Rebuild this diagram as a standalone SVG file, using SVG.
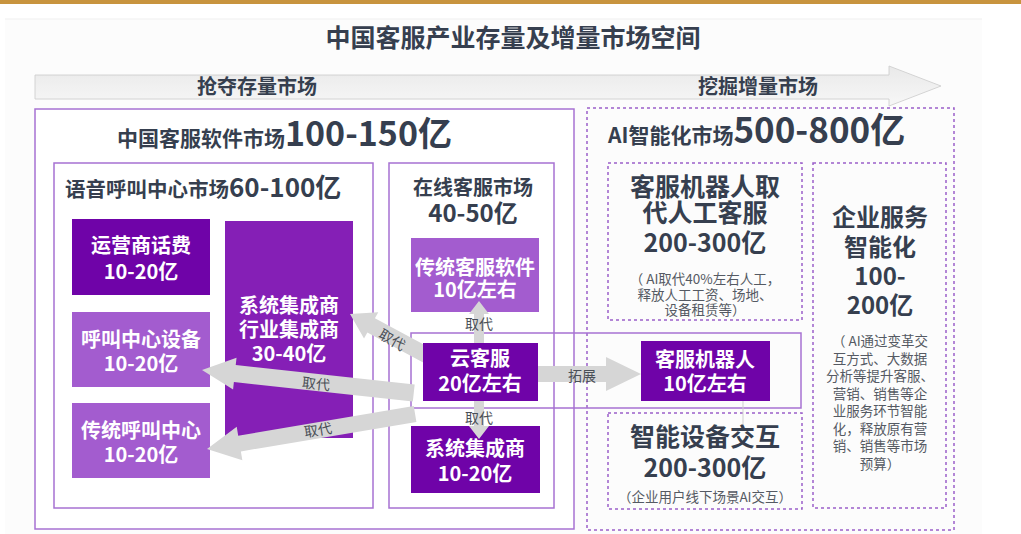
<svg xmlns="http://www.w3.org/2000/svg" width="1021" height="534" viewBox="0 0 1021 534">
<defs>
<linearGradient id="bigArrow" x1="0" y1="0" x2="0" y2="1">
<stop offset="0" stop-color="#e9e9e9"/>
<stop offset="1" stop-color="#f7f7f7"/>
</linearGradient>
<style>
text{font-family:"Noto Sans CJK SC","Noto Sans",sans-serif;}
.h{fill:#363f4f;font-weight:700;}
.w{fill:#ffffff;font-weight:700;font-size:20px;text-anchor:middle;}
.s{fill:#555a63;font-size:13.5px;text-anchor:middle;}
.lbl{fill:#4a4f57;font-size:14px;text-anchor:middle;}
.dk{fill:#6f03a8;}
.md{fill:#851fb6;}
.lt{fill:#a35ccf;}
.solid{fill:#ffffff;stroke:#a772d2;stroke-width:1.5;}
.dash{fill:none;stroke:#9b5fc9;stroke-width:1.5;stroke-dasharray:3 3;}
.ga{fill:#d6d6d6;}
</style>
</defs>
<rect x="0" y="0" width="1021" height="534" fill="#ffffff"/>
<rect x="5" y="19" width="977" height="515" fill="#fcfcfc"/>
<line x1="5" y1="19" x2="982" y2="19" stroke="#efefef" stroke-width="1"/>
<rect x="0" y="0" width="1021" height="4" fill="#c8943e"/>

<g id="title">
<text x="513" y="47" class="h" font-size="25" text-anchor="middle">中国客服产业存量及增量市场空间</text>
</g>

<g id="timeline">
<polygon points="35,75 889,75 889,66 941,86 889,106 889,99 35,99" fill="url(#bigArrow)" stroke="#cfcfcf" stroke-width="0.9"/>
<text x="257" y="94" class="h" font-size="20" text-anchor="middle">抢夺存量市场</text>
<text x="758" y="94" class="h" font-size="20" text-anchor="middle">挖掘增量市场</text>
</g>

<g id="software-market">
<rect x="35" y="109" width="539" height="420" class="solid"/>
<text x="117" y="146" class="h"><tspan font-size="21">中国客服软件市场</tspan><tspan font-size="34">100-150亿</tspan></text>
</g>

<g id="voice-market">
<rect x="54" y="163" width="319" height="345" class="solid"/>
<text x="65" y="197" class="h"><tspan font-size="20.5">语音呼叫中心市场</tspan><tspan font-size="26">60-100亿</tspan></text>
</g>

<g id="online-market">
<rect x="389" y="163" width="165" height="345" class="solid"/>
<text x="473" y="195" class="h" font-size="20" text-anchor="middle">在线客服市场</text>
<text x="473" y="222" class="h" font-size="24" text-anchor="middle">40-50亿</text>
</g>

<g id="ai-market">
<rect x="587" y="108" width="367" height="422" class="dash" fill="#ffffff"/>
<text x="608" y="143" class="h"><tspan font-size="21">AI智能化市场</tspan><tspan font-size="35">500-800亿</tspan></text>
</g>

<g id="cloud-frame">
<rect x="411" y="333" width="390" height="75" fill="none" stroke="#a772d2" stroke-width="1.5"/>
</g>

<g id="node-carrier">
<rect x="72" y="219" width="138" height="76" class="dk"/>
<text x="141" y="253" class="w">运营商话费</text>
<text x="141" y="279" class="w">10-20亿</text>
</g>

<g id="node-integrator">
<rect x="225" y="221" width="128" height="217" class="md"/>
<text x="289" y="313" class="w">系统集成商</text>
<text x="289" y="337" class="w">行业集成商</text>
<text x="289" y="361" class="w">30-40亿</text>
</g>

<g id="node-callcenter-device">
<rect x="72" y="312" width="138" height="75" class="lt"/>
<text x="141" y="347" class="w">呼叫中心设备</text>
<text x="141" y="371" class="w">10-20亿</text>
</g>

<g id="node-traditional-callcenter">
<rect x="72" y="403" width="138" height="75" class="lt"/>
<text x="141" y="438" class="w">传统呼叫中心</text>
<text x="141" y="462" class="w">10-20亿</text>
</g>

<g id="node-traditional-software">
<rect x="411" y="238" width="128" height="74" class="lt"/>
<text x="475" y="275" class="w">传统客服软件</text>
<text x="475" y="297" class="w">10亿左右</text>
</g>

<g id="node-online-integrator">
<rect x="411" y="426" width="129" height="67" class="dk"/>
<text x="475" y="456" class="w">系统集成商</text>
<text x="475" y="481" class="w">10-20亿</text>
</g>

<g id="node-robot-replace">
<rect x="608" y="163" width="194" height="157" class="dash"/>
<text x="705" y="196" class="h" font-size="25" text-anchor="middle">客服机器人取</text>
<text x="705" y="222" class="h" font-size="25" text-anchor="middle">代人工客服</text>
<text x="705" y="252" class="h" font-size="25" text-anchor="middle">200-300亿</text>
<text x="705" y="284" class="s" font-size="14">（ AI取代40%左右人工，</text>
<text x="705" y="300" class="s" font-size="14">释放人工工资、场地、</text>
<text x="705" y="315" class="s" font-size="14">设备租赁等）</text>
</g>

<g id="node-enterprise">
<rect x="813" y="163" width="133" height="345" class="dash"/>
<text x="880" y="226" class="h" font-size="24" text-anchor="middle">企业服务</text>
<text x="880" y="256" class="h" font-size="24" text-anchor="middle">智能化</text>
<text x="880" y="285" class="h" font-size="24" text-anchor="middle">100-</text>
<text x="880" y="314" class="h" font-size="24" text-anchor="middle">200亿</text>
<text x="880" y="346" class="s">（ AI通过变革交</text>
<text x="880" y="363.5" class="s">互方式、大数据</text>
<text x="880" y="381" class="s">分析等提升客服、</text>
<text x="880" y="398.5" class="s">营销、销售等企</text>
<text x="880" y="416" class="s">业服务环节智能</text>
<text x="880" y="433.5" class="s">化，释放原有营</text>
<text x="880" y="451" class="s">销、销售等市场</text>
<text x="880" y="468.5" class="s">预算）</text>
</g>

<g id="node-device">
<rect x="608" y="413" width="194" height="96" class="dash"/>
<text x="705" y="446" class="h" font-size="25" text-anchor="middle">智能设备交互</text>
<text x="705" y="477" class="h" font-size="25" text-anchor="middle">200-300亿</text>
<text x="705" y="502" class="s" font-size="14">（企业用户线下场景AI交互）</text>
</g>

<g id="connectors">
<line x1="743" y1="401" x2="743" y2="425" stroke="#cfcfcf" stroke-width="1"/>
<polygon class="ga" points="474,343 474,314 469,314 479,301 489,314 484,314 484,343"/>
<polygon class="ga" points="474,401 474,426 469,426 479,439 489,426 484,426 484,401"/>
<polygon class="ga" points="538,366 606,366 606,357 641,374 606,391 606,382 538,382"/>
<polygon class="ga" transform="translate(350,314) rotate(28.3)" points="0,0 24,-15 24,-8 90,-8 90,8 24,8 24,15"/>
<polygon class="ga" transform="translate(202,370) rotate(6.2)" points="0,0 33,-16 33,-8.5 213,-8.5 213,8.5 33,8.5 33,16"/>
<polygon class="ga" transform="translate(207,449) rotate(-9.55)" points="0,0 33,-17 33,-8 211,-8 211,8 33,8 33,17"/>
<text x="479" y="329" class="lbl">取代</text>
<text x="479" y="423" class="lbl">取代</text>
<text x="582" y="381" class="lbl">拓展</text>
<text x="392" y="345" class="lbl" transform="rotate(30 392 340)">取代</text>
<text x="316" y="389" class="lbl" transform="rotate(6 316 384)">取代</text>
<text x="318" y="435" class="lbl" transform="rotate(-9 318 430)">取代</text>
</g>

<g id="node-cloud">
<rect x="423" y="343" width="115" height="58" class="dk"/>
<text x="480" y="366" class="w">云客服</text>
<text x="480" y="391" class="w">20亿左右</text>
</g>

<g id="node-robot">
<rect x="641" y="341" width="129" height="60" class="dk"/>
<text x="705" y="367" class="w">客服机器人</text>
<text x="705" y="391" class="w">10亿左右</text>
</g>
</svg>
